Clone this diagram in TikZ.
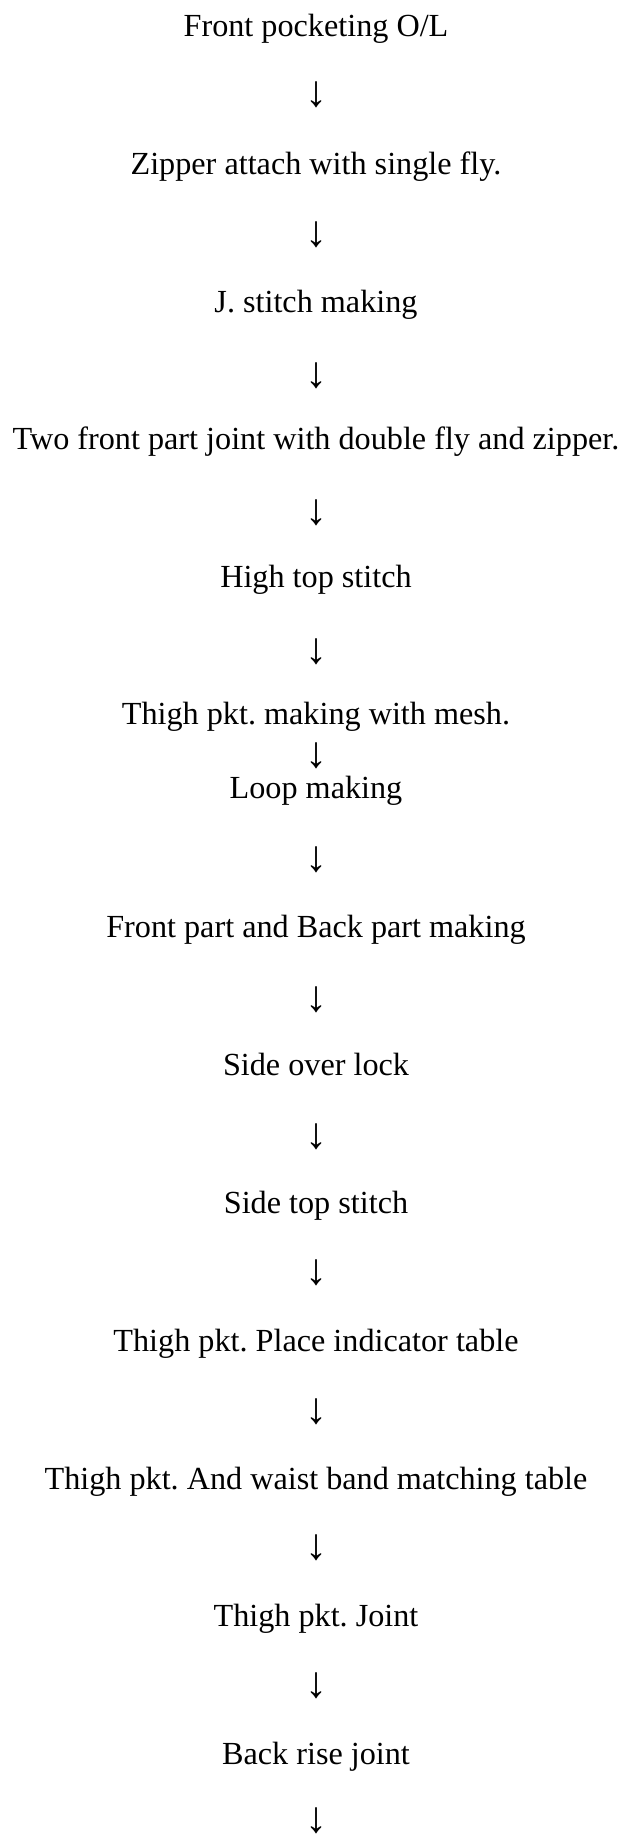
\documentclass[tikz,border=0pt]{standalone}
\usepackage{fontspec}
\setmainfont{Liberation Serif}
\frenchspacing
\begin{document}
\begin{tikzpicture}[x=1pt,y=-1pt,
  steptext/.style={anchor=base, inner sep=0pt, font=\fontsize{32.2}{36}\selectfont\frenchspacing},
  downarrow/.style={anchor=center, inner sep=0pt, font=\fontsize{44}{50}\selectfont}]
\useasboundingbox (0,0) rectangle (622,1836);
\def\cx{316}
\node[steptext] (t1) at (\cx,37) {Front pocketing O/L};
\node[downarrow] (a1) at (\cx,95) {↓};
\node[steptext] (t2) at (\cx,174.5) {Zipper attach with single fly.};
\node[downarrow] (a2) at (\cx,235) {↓};
\node[steptext] (t3) at (\cx,312) {J. stitch making};
\node[downarrow] (a3) at (\cx,376) {↓};
\node[steptext] (t4) at (\cx,449.5) {Two front part joint with double fly and zipper.};
\node[downarrow] (a4) at (\cx,513) {↓};
\node[steptext] (t5) at (\cx,587) {High top stitch};
\node[downarrow] (a5) at (\cx,652) {↓};
\node[steptext] (t6) at (\cx,724.5) {Thigh pkt. making with mesh.};
\node[downarrow] (a6) at (\cx,756) {↓};
\node[steptext] (t7) at (\cx,798) {Loop making};
\node[downarrow] (a7) at (\cx,860) {↓};
\node[steptext] (t8) at (\cx,937) {Front part and Back part making};
\node[downarrow] (a8) at (\cx,1000) {↓};
\node[steptext] (t9) at (\cx,1075) {Side over lock};
\node[downarrow] (a9) at (\cx,1137) {↓};
\node[steptext] (t10) at (\cx,1213) {Side top stitch};
\node[downarrow] (a10) at (\cx,1273) {↓};
\node[steptext] (t11) at (\cx,1351) {Thigh pkt. Place indicator table};
\node[downarrow] (a11) at (\cx,1412) {↓};
\node[steptext] (t12) at (\cx,1489) {Thigh pkt. And waist band matching table};
\node[downarrow] (a12) at (\cx,1548) {↓};
\node[steptext] (t13) at (\cx,1626) {Thigh pkt. Joint};
\node[downarrow] (a13) at (\cx,1686) {↓};
\node[steptext] (t14) at (\cx,1764) {Back rise joint};
\node[downarrow] (a14) at (\cx,1821) {↓};
\end{tikzpicture}
\end{document}
